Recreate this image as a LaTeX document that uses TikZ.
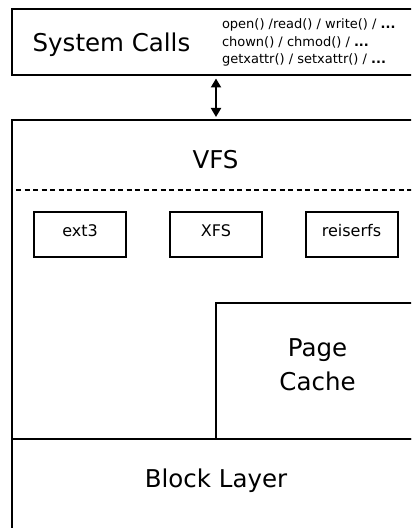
\documentclass[tikz,border=0pt]{standalone}
\usepackage{fontspec}
\setmainfont{DejaVu Sans}
\usetikzlibrary{arrows.meta}
\begin{document}
\begin{tikzpicture}[x=1bp,y=-1bp,
  every node/.style={inner sep=0pt, outer sep=0pt},
  frame/.style={draw, line width=2bp, rectangle},
  bigtext/.style={font=\fontsize{24.5bp}{34bp}\selectfont},
  fstext/.style={font=\fontsize{16bp}{19bp}\selectfont},
  calltext/.style={font=\fontsize{13bp}{17.5bp}\selectfont},
  fsbox/.style={frame, minimum width=92bp, minimum height=45.5bp, fstext,
                text height=12bp, text depth=7.2bp},
  link/.style={line width=2bp, {Triangle[length=9bp,width=10bp]}-{Triangle[length=9bp,width=10bp]},
               shorten <=3.5bp, shorten >=3.5bp},
]
\useasboundingbox (0,0) rectangle (411,528);
\clip (0,0) rectangle (411,528);

% system call layer
\node[frame, minimum width=407bp, minimum height=66bp, anchor=north west] (syscalls) at (12,9) {};
\node[bigtext, anchor=base] (sctext) at (111.5,52) {System Calls};
\node[calltext, anchor=base west] (call1) at (222,29) {open() /read() / write() / \textbf{...}};
\node[calltext, anchor=base west] (call2) at (222,46.5) {chown() / chmod() / \textbf{...}};
\node[calltext, anchor=base west] (call3) at (222,64) {getxattr() / setxattr() / \textbf{...}};

% kernel: VFS, file systems, page cache, block layer
\node[frame, minimum width=407bp, minimum height=480bp, anchor=north west] (kernel) at (12,120.5) {};
\node[bigtext, anchor=base] (vfstext) at (215.5,169) {VFS};
\coordinate (dashL) at (16,190);
\draw[line width=2bp, dash pattern=on 5bp off 3.5bp] (dashL) -- (dashL -| kernel.east);

\node[fsbox] (ext3) at (80,234.3) {ext3};
\node[fsbox] (xfs) at (216,234.3) {XFS};
\node[fsbox] (reiserfs) at (351.5,234.3) {reiserfs};

\node[frame, minimum width=203bp, minimum height=136bp, anchor=north west] (pagecache) at (216,303) {};
\node[bigtext, align=center] (pctext) at (317.5,365.2) {Page\\Cache};

\node[frame, minimum width=407bp, minimum height=200bp, anchor=north west] (blocklayer) at (12,439) {};
\node[bigtext, anchor=base] (bltext) at (216,487) {Block Layer};

% call path between the layers
\draw[link] (syscalls.south -| 216,0) -- (kernel.north -| 216,0);
\end{tikzpicture}
\end{document}
